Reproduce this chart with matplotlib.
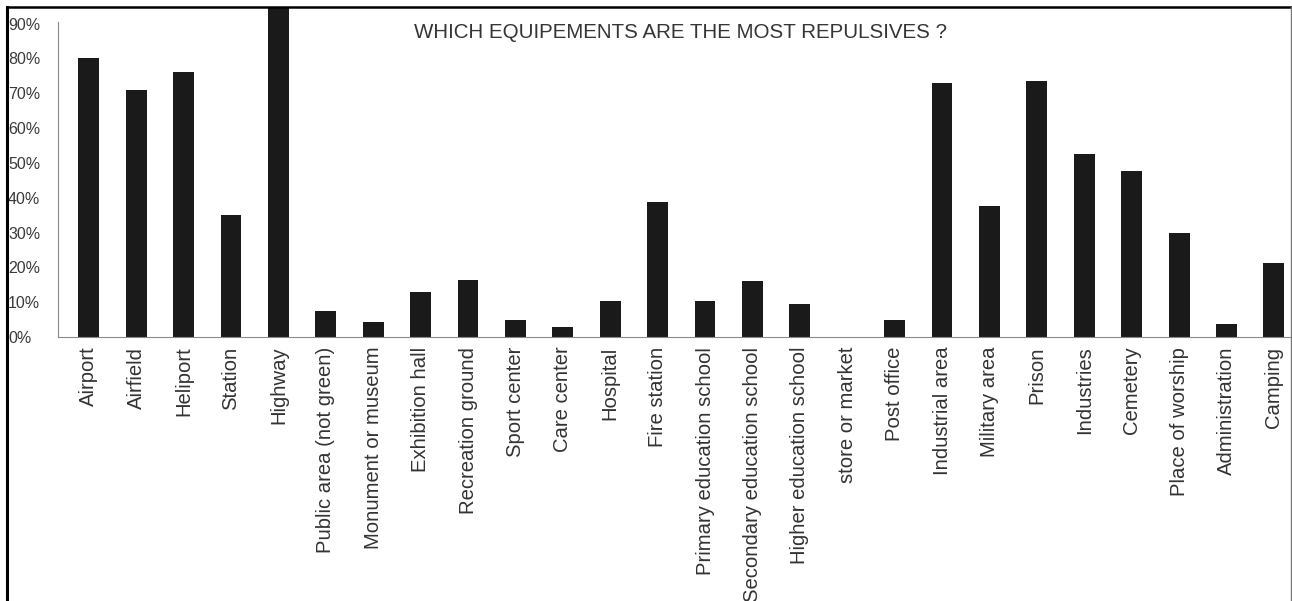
import matplotlib
matplotlib.use("Agg")
import matplotlib.pyplot as plt
from matplotlib.lines import Line2D
from matplotlib.ticker import FuncFormatter

plt.rcParams['font.family'] = ['Liberation Sans', 'DejaVu Sans']

# equipements et pourcentage de réponses "répulsif"
equipements = [
    "Airport", "Airfield", "Heliport", "Station", "Highway",
    "Public area (not green)", "Monument or museum", "Exhibition hall",
    "Recreation ground", "Sport center", "Care center", "Hospital",
    "Fire station", "Primary education school", "Secondary education school",
    "Higher education school", "store or market", "Post office",
    "Industrial area", "Military area", "Prison", "Industries", "Cemetery",
    "Place of worship", "Administration", "Camping",
]
pourcentages = [
    80, 71, 76, 35, 100,
    7.5, 4.3, 13,
    16.4, 5, 3, 10.3,
    38.8, 10.3, 16,
    9.5, 0, 5,
    73, 37.5, 73.6, 52.6, 47.7,
    30, 3.7, 21.3,
]
graduations = [0, 10, 20, 30, 40, 50, 60, 70, 80, 90]
titre = "WHICH EQUIPEMENTS ARE THE MOST REPULSIVES ?"

W, H = 1292, 601
fig = plt.figure(figsize=(W / 100, H / 100), dpi=100)
ax = fig.add_axes([58 / W, 1 - 337 / H, (1290 - 58) / W, (337 - 8) / H])

x = list(range(len(equipements)))
ax.bar(x, pourcentages, width=0.44, color="#1a1a1a")

ax.set_xlim(-0.65, len(equipements) - 0.66)
ax.set_ylim(0, 94.5)

# axes gris, pas de cadre complet
for s in ["top", "right"]:
    ax.spines[s].set_visible(False)
ax.spines["left"].set_color("#8a8a8a")
ax.spines["bottom"].set_color("#8a8a8a")
ax.spines["left"].set_bounds(0, 90.5)

ax.set_yticks(graduations)
ax.yaxis.set_major_formatter(FuncFormatter(lambda v, p: f"{int(v)}%"))
# pad en points : 50 px -> 36 pt, étiquettes alignées à gauche près du cadre
ax.tick_params(axis="y", length=0, pad=36, labelsize=11.5, labelcolor="#3a3a3a")
for t in ax.get_yticklabels():
    t.set_horizontalalignment("left")

ax.set_xticks(x)
ax.set_xticklabels(equipements, rotation=90, fontsize=14.6, color="#333333")
ax.tick_params(axis="x", length=0, pad=7)

fig.text(680 / W, 1 - 33 / H, titre, ha="center", va="center",
         fontsize=14.8, color="#353535")

# cadre de l'image (rogné en bas)
fig.add_artist(Line2D([7 / W, 7 / W], [0, 1 - 7 / H], transform=fig.transFigure,
                      color="black", lw=2.2))
fig.add_artist(Line2D([7 / W, 1291 / W], [1 - 7 / H, 1 - 7 / H],
                      transform=fig.transFigure, color="black", lw=1.8))
fig.add_artist(Line2D([1290.5 / W, 1290.5 / W], [0, 1 - 7 / H],
                      transform=fig.transFigure, color="#777777", lw=1))

fig.savefig("out.png", dpi=100)
